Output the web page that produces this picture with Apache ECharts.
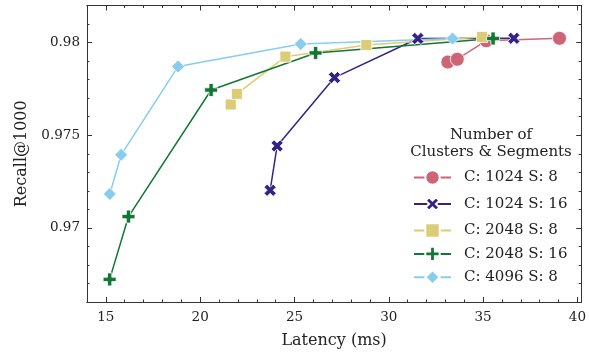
<!DOCTYPE html>
<html>
<head>
<meta charset="utf-8">
<script src="https://cdn.jsdelivr.net/npm/echarts@6/dist/echarts.min.js"></script>
<style>
    html, body { margin: 0; padding: 0; background: #fff; }
    #chart { width: 589px; height: 354px; }
</style>
</head>
<body>
<div id="chart"></div>
<script>
    // series values: [latency ms, recall@1000]
    var c1024s8 = [[33.13, 0.97895], [33.63, 0.9791], [35.17, 0.9801], [39.05, 0.98023]];
    var c1024s16 = [[23.71, 0.97203], [24.08, 0.97442], [27.12, 0.97811], [31.54, 0.98022], [36.63, 0.98023]];
    var c2048s8 = [[21.62, 0.97666], [21.95, 0.97723], [24.52, 0.97924], [28.81, 0.97987], [34.94, 0.9803]];
    var c2048s16 = [[15.2, 0.96722], [16.2, 0.97061], [20.58, 0.97744], [26.12, 0.97944], [35.53, 0.98022]];
    var c4096s8 = [[15.21, 0.97183], [15.81, 0.97394], [18.83, 0.97871], [25.33, 0.97992], [33.38, 0.98022]];

    var seriesNames = ['C: 1024 S: 8', 'C: 1024 S: 16', 'C: 2048 S: 8', 'C: 2048 S: 16', 'C: 4096 S: 8'];

    // tick labels
    var xTicks = [15, 20, 25, 30, 35, 40];
    var xMinorTicks = [14, 15, 16, 17, 18, 19, 20, 21, 22, 23, 24, 25, 26, 27, 28, 29, 30, 31, 32, 33, 34, 35, 36, 37, 38, 39, 40];
    var yTicks = [0.97, 0.975, 0.98];
    var yMinorTicks = [0.966, 0.967, 0.968, 0.969, 0.97, 0.971, 0.972, 0.973, 0.974, 0.975, 0.976, 0.977, 0.978, 0.979, 0.98, 0.981, 0.982];

    var xMin = 14, xMax = 40.2, yMin = 0.966, yMax = 0.982;
    var font = '"DejaVu Serif", "Liberation Serif", serif';
    var axisColor = '#333';

    var plusPath = 'path://M-1,-3H1V-1H3V1H1V3H-1V1H-3V-1H-1Z';

    var myChart = echarts.init(document.getElementById('chart'), null, { renderer: 'canvas' });

    function xAxisDef(pos, major, withLabel) {
        return {
            type: 'value',
            position: pos,
            min: xMin,
            max: xMax,
            name: withLabel ? 'Latency (ms)' : '',
            nameLocation: 'middle',
            nameGap: 31,
            nameTextStyle: { fontFamily: font, fontSize: 16, color: '#222' },
            axisLine: { show: true, onZero: false, lineStyle: { color: axisColor, width: 1 } },
            axisTick: {
                show: true,
                inside: true,
                length: major ? 5 : 2.5,
                customValues: major ? xTicks : xMinorTicks,
                lineStyle: { color: axisColor, width: 1 }
            },
            axisLabel: {
                show: withLabel,
                customValues: xTicks,
                margin: 8,
                fontFamily: font,
                fontSize: 13.5,
                color: '#222'
            },
            splitLine: { show: false }
        };
    }

    function yAxisDef(pos, major, withLabel) {
        return {
            type: 'value',
            position: pos,
            min: yMin,
            max: yMax,
            name: withLabel ? 'Recall@1000' : '',
            nameLocation: 'middle',
            nameGap: 57,
            nameTextStyle: { fontFamily: font, fontSize: 16, color: '#222' },
            axisLine: { show: true, onZero: false, lineStyle: { color: axisColor, width: 1 } },
            axisTick: {
                show: true,
                inside: true,
                length: major ? 5 : 2.5,
                customValues: major ? yTicks : yMinorTicks,
                lineStyle: { color: axisColor, width: 1 }
            },
            axisLabel: {
                show: withLabel,
                customValues: yTicks,
                margin: 7,
                fontFamily: font,
                fontSize: 13.5,
                color: '#222'
            },
            splitLine: { show: false }
        };
    }

    function lineSeries(name, data, color, symbol, size, rotate) {
        return {
            name: name,
            type: 'line',
            data: data,
            xAxisIndex: 0,
            yAxisIndex: 0,
            symbol: symbol,
            symbolSize: size,
            symbolRotate: rotate || 0,
            showAllSymbol: true,
            lineStyle: { color: color, width: 1.5 },
            itemStyle: { color: color, borderColor: '#fff', borderWidth: 0.8 },
            emphasis: { disabled: true },
            z: 2
        };
    }

    var option = {
        animation: false,
        backgroundColor: '#fff',
        grid: { left: 87, right: 7.5, top: 5.5, bottom: 52 },
        xAxis: [
            xAxisDef('bottom', true, true),
            xAxisDef('bottom', false, false),
            xAxisDef('top', true, false),
            xAxisDef('top', false, false)
        ],
        yAxis: [
            yAxisDef('left', true, true),
            yAxisDef('left', false, false),
            yAxisDef('right', true, false),
            yAxisDef('right', false, false)
        ],
        graphic: [{
            type: 'text',
            x: 491,
            y: 126,
            style: {
                text: 'Number of\nClusters & Segments',
                fontFamily: font,
                fontSize: 15,
                lineHeight: 17.5,
                align: 'center',
                verticalAlign: 'top',
                fill: '#222'
            }
        }],
        legend: {
            orient: 'vertical',
            left: 413,
            top: 169,
            padding: 0,
            itemWidth: 37,
            itemHeight: 18,
            itemGap: 6.4,
            textStyle: { fontFamily: font, fontSize: 15, lineHeight: 17, color: '#222', padding: [0, 0, 0, 8] },
            data: seriesNames
        },
        series: [
            lineSeries(seriesNames[0], c1024s8, '#CC6677', 'circle', 14),
            lineSeries(seriesNames[1], c1024s16, '#332288', plusPath, 13, 45),
            lineSeries(seriesNames[2], c2048s8, '#DDCC77', 'rect', 11),
            lineSeries(seriesNames[3], c2048s16, '#117733', plusPath, 13),
            lineSeries(seriesNames[4], c4096s8, '#88CCEE', 'diamond', 13)
        ]
    };

    myChart.setOption(option);
</script>
</body>
</html>
